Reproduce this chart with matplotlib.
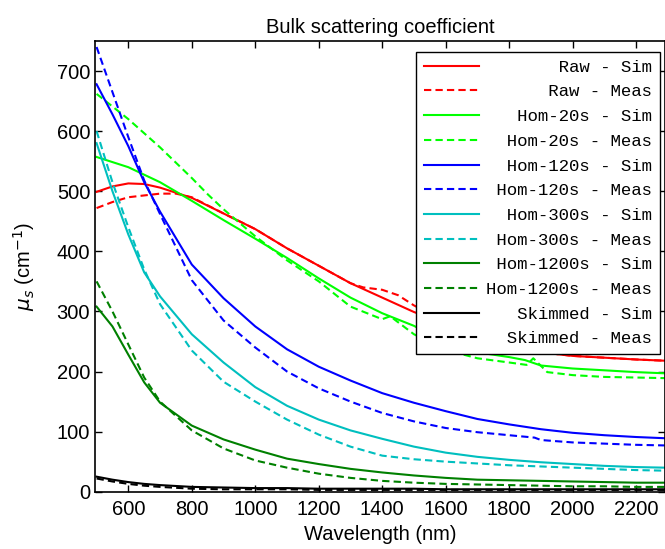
import matplotlib
matplotlib.use('Agg')
import matplotlib.pyplot as plt

# wavelength grid (nm)
WL = [500, 550, 600, 650, 700, 800, 900, 1000, 1100, 1200, 1300,
      1400, 1500, 1600, 1700, 1800, 1900, 2000, 2100, 2200, 2290]

raw_sim_wl = [500, 550, 600, 650, 700, 800, 900, 1000, 1100, 1200, 1300,
              1400, 1500, 1600, 1700, 1800, 1900, 2000, 2100, 2200, 2290]
raw_sim = [499, 508, 513, 512, 506, 489, 463, 437, 405, 376, 347,
           323, 299, 280, 262, 245, 232, 226, 223, 220, 218]
raw_meas_wl = [500, 550, 600, 700, 750, 800, 900, 1000, 1100, 1200, 1300, 1340,
               1400, 1450, 1500, 1600, 1700, 1800, 1900, 2000, 2100, 2200, 2290]
raw_meas = [472, 482, 490, 496, 496, 490, 463, 437, 405, 376, 347, 340,
            336, 327, 310, 282, 262, 245, 232, 226, 223, 220, 218]

h20_sim_wl = [500, 600, 700, 800, 900, 1000, 1100, 1200, 1300, 1400, 1500,
              1600, 1700, 1800, 1850, 1900, 2000, 2100, 2200, 2290]
h20_sim = [557, 540, 515, 484, 452, 421, 389, 355, 323, 297, 276,
           248, 232, 224, 219, 210, 205, 202, 199, 197]
h20_meas_wl = [500, 600, 700, 800, 850, 900, 1000, 1100, 1200, 1300, 1400, 1425,
               1500, 1600, 1700, 1800, 1855, 1876, 1920, 2000, 2100, 2200, 2290]
h20_meas = [662, 620, 573, 522, 495, 470, 425, 385, 350, 308, 287, 292,
            262, 236, 222, 215, 211, 222, 199, 194, 191, 190, 189]

h120_sim = [678, 628, 575, 515, 466, 378, 322, 275, 237, 208, 185,
            164, 148, 134, 121, 112, 104, 98, 94, 91, 89]
h120_meas_wl = [500, 550, 600, 650, 700, 800, 900, 1000, 1100, 1200, 1300, 1400,
                1500, 1600, 1700, 1800, 1880, 1900, 2000, 2100, 2200, 2290]
h120_meas = [740, 665, 590, 518, 462, 352, 285, 240, 200, 172, 150, 131,
             117, 106, 99, 94, 90, 86, 82, 80, 78, 77]

h300_sim = [580, 500, 428, 365, 325, 262, 215, 174, 143, 120, 102,
            88, 75, 65, 58, 53, 49, 46, 43, 41, 40]
h300_meas = [600, 515, 440, 370, 312, 235, 183, 150, 120, 95, 75,
             60, 54, 50, 47, 44, 42, 40, 38, 36, 35]

h1200_sim = [308, 275, 228, 182, 148, 110, 87, 70, 55, 46, 38,
             32, 27, 23, 20, 19, 18, 17, 16, 15, 15]
h1200_meas = [350, 300, 245, 190, 150, 102, 72, 52, 40, 30, 23,
              18, 15, 13, 12, 11, 10, 9, 9, 8, 8]

skim_sim = [25, 20, 16, 13, 11, 8, 7, 6, 6, 5, 5,
            5, 5, 4, 4, 4, 4, 4, 4, 4, 4]
skim_meas = [22, 17, 13, 10, 8, 5, 4, 4, 4, 3, 3,
             3, 3, 3, 3, 3, 3, 3, 3, 3, 3]

series = [
    ('Raw - Sim', raw_sim_wl, raw_sim, '#ff0000', '-'),
    ('Raw - Meas', raw_meas_wl, raw_meas, '#ff0000', '--'),
    ('Hom-20s - Sim', h20_sim_wl, h20_sim, '#00ff00', '-'),
    ('Hom-20s - Meas', h20_meas_wl, h20_meas, '#00ff00', '--'),
    ('Hom-120s - Sim', WL, h120_sim, '#0000ff', '-'),
    ('Hom-120s - Meas', h120_meas_wl, h120_meas, '#0000ff', '--'),
    ('Hom-300s - Sim', WL, h300_sim, '#00bfbf', '-'),
    ('Hom-300s - Meas', WL, h300_meas, '#00bfbf', '--'),
    ('Hom-1200s - Sim', WL, h1200_sim, '#008000', '-'),
    ('Hom-1200s - Meas', WL, h1200_meas, '#008000', '--'),
    ('Skimmed - Sim', WL, skim_sim, '#000000', '-'),
    ('Skimmed - Meas', WL, skim_meas, '#000000', '--'),
]

plt.rcParams['font.family'] = ['Liberation Sans', 'DejaVu Sans']

fig = plt.figure(figsize=(6.65, 5.49), dpi=100)
ax = fig.add_axes([95 / 665, 57.3 / 549, 570 / 665, 450.7 / 549])

width = max(len(s[0]) for s in series)
for label, x, y, color, ls in series:
    # pad label so the monospace text lines up on the right
    ax.plot(x, y, color=color, linestyle=ls, linewidth=1.5,
            dashes=(3.5, 2) if ls == '--' else (None, None),
            label=label.rjust(width))

ax.set_xlim(495, 2291)
ax.set_ylim(0, 750)
ax.set_xticks(range(600, 2201, 200))
ax.set_yticks(range(0, 701, 100))
ax.tick_params(direction='in', top=True, right=True, length=5,
               labelsize=14.5, width=1)
ax.tick_params(axis='x', pad=6)
for sp in ax.spines.values():
    sp.set_linewidth(1.2)

ax.set_title('Bulk scattering coefficient', fontsize=14.5, pad=6)
ax.set_xlabel('Wavelength (nm)', fontsize=14.5, labelpad=4)
ax.set_ylabel(r'$\mu_s$ (cm$^{-1}$)', fontsize=14.5, labelpad=14)

leg = ax.legend(loc='upper right', bbox_to_anchor=(0.991, 0.976),
                borderaxespad=0, fancybox=False, framealpha=1,
                edgecolor='black', handlelength=3.2, handletextpad=0.4,
                labelspacing=0.55, borderpad=0.45,
                prop={'family': 'Liberation Mono', 'size': 12.5})
leg.get_frame().set_linewidth(1.0)

fig.savefig('out.png', dpi=100)
